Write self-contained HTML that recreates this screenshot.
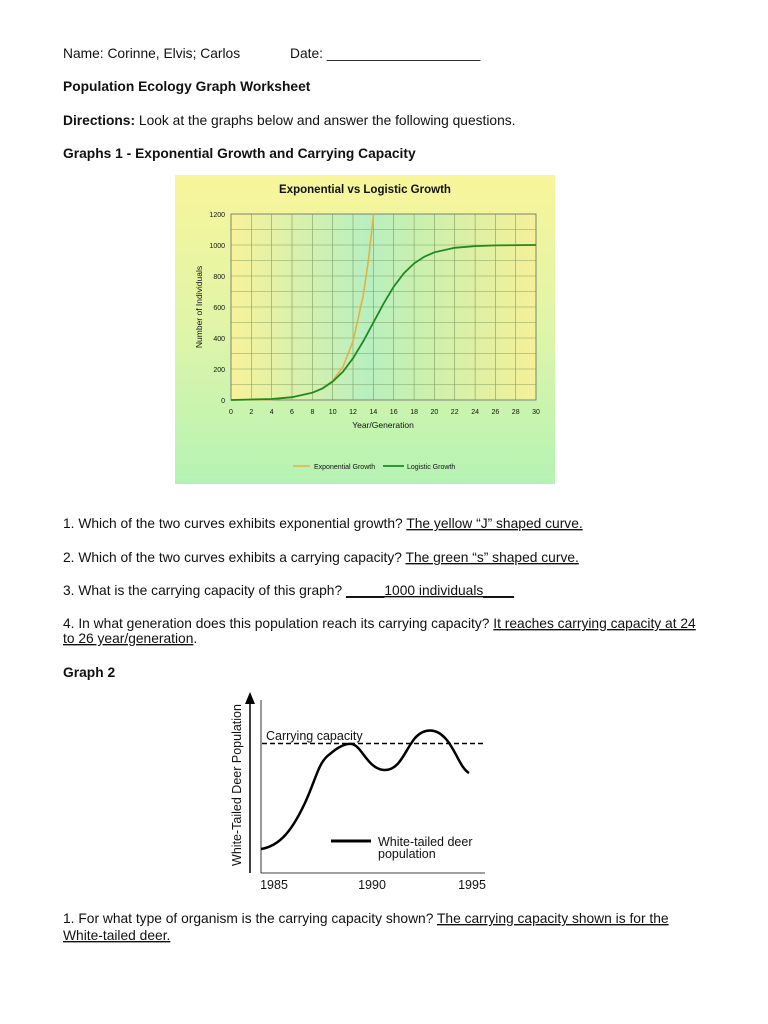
<!DOCTYPE html>
<html><head><meta charset="utf-8"><style>
body{margin:0;background:#fff;}
svg{display:block}
text{font-family:"Liberation Sans",Arial,sans-serif;fill:#111}
</style></head><body>
<svg width="768" height="1024" xmlns="http://www.w3.org/2000/svg">
<defs>
<linearGradient id="bg" x1="0" y1="0" x2="0" y2="1">
<stop offset="0" stop-color="#f8f59a"/><stop offset="0.5" stop-color="#dff5a8"/><stop offset="1" stop-color="#b4f3b4"/>
</linearGradient>
<linearGradient id="pl" x1="0" y1="0" x2="1" y2="0">
<stop offset="0" stop-color="#f8f29a"/><stop offset="0.45" stop-color="#b8efc0"/><stop offset="0.6" stop-color="#c8f0b0"/><stop offset="1" stop-color="#f5f098"/>
</linearGradient>
</defs>
<g font-size="13.8">
<text x="63" y="58">Name: Corinne, Elvis; Carlos</text>
<text x="290" y="58">Date: ____________________</text>
<text x="63" y="91" font-weight="bold">Population Ecology Graph Worksheet</text>
<text x="63" y="125"><tspan font-weight="bold">Directions:</tspan> Look at the graphs below and answer the following questions.</text>
<text x="63" y="158" font-weight="bold">Graphs 1 - Exponential Growth and Carrying Capacity</text>
</g>
<rect x="175" y="175" width="380" height="309" fill="url(#bg)"/>
<text x="365" y="193" font-size="11.5" font-weight="bold" text-anchor="middle" fill="#333">Exponential vs Logistic Growth</text>
<rect x="231" y="214" width="305" height="186" fill="url(#pl)" stroke="#666" stroke-width="0.8"/>
<g stroke="#6a8a50" stroke-width="0.6" opacity="0.8">
<path d="M251.3 214V400M271.7 214V400M292 214V400M312.4 214V400M332.7 214V400M353 214V400M373.4 214V400M393.7 214V400M414.1 214V400M434.4 214V400M454.7 214V400M475.1 214V400M495.4 214V400M515.7 214V400"/>
<path d="M231 229.5H536M231 245H536M231 260.5H536M231 276H536M231 291.5H536M231 307H536M231 322.5H536M231 338H536M231 353.5H536M231 369H536M231 384.5H536"/>
</g>
<g font-size="7" fill="#444" text-anchor="end">
<text x="225" y="217">1200</text><text x="225" y="248">1000</text><text x="225" y="279">800</text><text x="225" y="310">600</text><text x="225" y="341">400</text><text x="225" y="372">200</text><text x="225" y="403">0</text>
</g>
<g font-size="7" fill="#444" text-anchor="middle">
<text x="231" y="414">0</text><text x="251.3" y="414">2</text><text x="271.7" y="414">4</text><text x="292" y="414">6</text><text x="312.4" y="414">8</text><text x="332.7" y="414">10</text><text x="353" y="414">12</text><text x="373.4" y="414">14</text><text x="393.7" y="414">16</text><text x="414.1" y="414">18</text><text x="434.4" y="414">20</text><text x="454.7" y="414">22</text><text x="475.1" y="414">24</text><text x="495.4" y="414">26</text><text x="515.7" y="414">28</text><text x="536" y="414">30</text>
</g>
<text x="383" y="428" font-size="8.5" text-anchor="middle" fill="#333">Year/Generation</text>
<text transform="translate(202,307) rotate(-90)" font-size="8.5" text-anchor="middle" fill="#333">Number of Individuals</text>
<path d="M231 400L271.7 399.5L292 397.2L312.4 392.7L322.5 388.4L332.7 380.6L342.9 367L353 341.3L363.2 295.7L368.3 261L373.4 216L374 214" fill="none" stroke="#e8b040" stroke-width="1.6"/>
<path d="M231 400L271.7 399L292 397.2L312.4 392.7L322.5 388.4L332.7 381.6L342.9 371.8L353 358.3L363.2 341.4L373.4 322.5L383.6 303.6L393.7 286.7L403.9 273.2L414.1 263.4L424.2 256.8L434.4 252.3L454.7 247.8L475.1 246.1L495.4 245.4L536 245" fill="none" stroke="#1f8a1f" stroke-width="1.8"/>
<line x1="293" y1="466" x2="310" y2="466" stroke="#e8b040" stroke-width="1.5"/>
<text x="314" y="469" font-size="7" fill="#444">Exponential Growth</text>
<line x1="383" y1="466" x2="404" y2="466" stroke="#1f8a1f" stroke-width="1.8"/>
<text x="407" y="469" font-size="7" fill="#444">Logistic Growth</text>
<g font-size="13.8">
<text x="63" y="528">1. Which of the two curves exhibits exponential growth? <tspan text-decoration="underline">The yellow “J” shaped curve.</tspan></text>
<text x="63" y="562">2. Which of the two curves exhibits a carrying capacity? <tspan text-decoration="underline">The green “s” shaped curve.</tspan></text>
<text x="63" y="595">3. What is the carrying capacity of this graph? <tspan text-decoration="underline">_____1000 individuals____</tspan></text>
<text x="63" y="628">4. In what generation does this population reach its carrying capacity? <tspan text-decoration="underline">It reaches carrying capacity at 24 </tspan></text>
<text x="63" y="643"><tspan text-decoration="underline">to 26 year/generation</tspan>.</text>
<text x="63" y="677" font-weight="bold">Graph 2</text>
</g>
<line x1="250" y1="700" x2="250" y2="873" stroke="#000" stroke-width="1.5"/>
<path d="M245 704L250 692L255 704Z" fill="#000"/>
<line x1="261" y1="873" x2="485" y2="873" stroke="#000" stroke-width="0.8"/>
<line x1="261" y1="700" x2="261" y2="873" stroke="#000" stroke-width="0.8"/>
<line x1="262" y1="743.5" x2="485" y2="743.5" stroke="#000" stroke-width="1.6" stroke-dasharray="5,3"/>
<text x="266" y="740" font-size="12.5">Carrying capacity</text>
<path d="M261 849C280 846 292 830 304 805C316 780 318 762 330 754C338 747 345 743 352 744C362 746 368 770 385 770C400 770 405 750 415 738C424 728 436 728 445 738C455 748 460 768 469 773" fill="none" stroke="#000" stroke-width="2.5"/>
<line x1="331" y1="841" x2="371" y2="841" stroke="#000" stroke-width="3"/>
<text x="378" y="846" font-size="12.5">White-tailed deer</text>
<text x="378" y="858" font-size="12.5">population</text>
<text transform="translate(241,785) rotate(-90)" font-size="12.5" text-anchor="middle">White-Tailed Deer Population</text>
<g font-size="12.5" text-anchor="middle"><text x="274" y="889">1985</text><text x="372" y="889">1990</text><text x="472" y="889">1995</text></g>
<g font-size="13.8">
<text x="63" y="923">1. For what type of organism is the carrying capacity shown? <tspan text-decoration="underline">The carrying capacity shown is for the </tspan></text>
<text x="63" y="940" text-decoration="underline">White-tailed deer.</text>
</g>
</svg>
</body></html>
